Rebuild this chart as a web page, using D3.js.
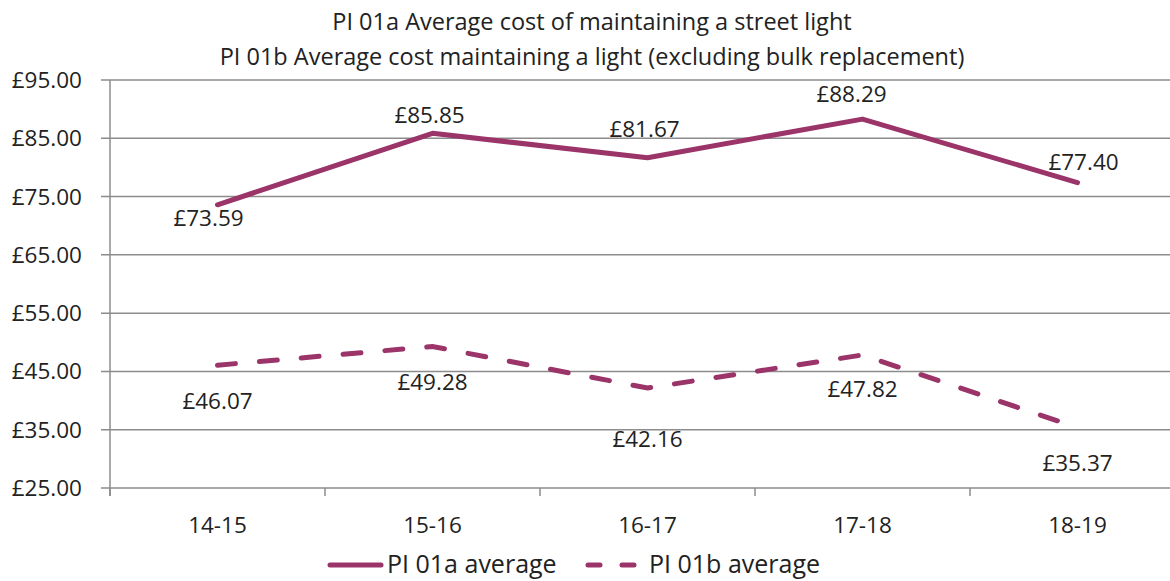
<!DOCTYPE html>
<html>
<head>
<meta charset="utf-8">
<script src="https://cdn.jsdelivr.net/npm/d3@7"></script>
<style>
  body { margin: 0; background: #fff; }
  text { font-family: "Open Sans", "Noto Sans", sans-serif; fill: #222; }
</style>
</head>
<body>
<div id="chart"></div>
<script>
// chart data
const years = ["14-15", "15-16", "16-17", "17-18", "18-19"];
const pi01a = [73.59, 85.85, 81.67, 88.29, 77.40];
const pi01b = [46.07, 49.28, 42.16, 47.82, 35.37];
const yTicks = [25, 35, 45, 55, 65, 75, 85, 95];
const titleLines = ["PI 01a Average cost of maintaining a street light",
                    "PI 01b Average cost maintaining a light (excluding bulk replacement)"];
const seriesNames = ["PI 01a average", "PI 01b average"];

const width = 1170, height = 581;
const plotLeft = 110, plotRight = 1185, plotTop = 80, plotBottom = 488;
const color = "#9b3468";
const gridColor = "#8c8c8c";
const fs = "22.5px";

const svg = d3.select("#chart").append("svg")
    .attr("width", width)
    .attr("height", height);

const x = d3.scaleBand().domain(years).range([plotLeft, plotRight]);
const y = d3.scaleLinear().domain([25, 95]).range([plotBottom, plotTop]);
const fmt = v => "£" + v.toFixed(2);
const cx = i => x(years[i]) + x.bandwidth() / 2;

// title
svg.selectAll(".title")
    .data(titleLines)
    .enter().append("text")
    .attr("x", 592)
    .attr("y", (d, i) => 30 + i * 35)
    .attr("text-anchor", "middle")
    .attr("font-size", "23.5px")
    .text(d => d);

// gridlines + y labels
svg.selectAll(".grid")
    .data(yTicks)
    .enter().append("line")
    .attr("x1", plotLeft - 9)
    .attr("x2", width)
    .attr("y1", d => y(d))
    .attr("y2", d => y(d))
    .attr("stroke", gridColor)
    .attr("stroke-width", 1.5);

svg.selectAll(".ylab")
    .data(yTicks)
    .enter().append("text")
    .attr("x", 82)
    .attr("y", d => y(d) + 8)
    .attr("text-anchor", "end")
    .attr("font-size", fs)
    .text(d => fmt(d));

// y axis line
svg.append("line")
    .attr("x1", plotLeft).attr("x2", plotLeft)
    .attr("y1", plotTop).attr("y2", plotBottom + 8)
    .attr("stroke", gridColor).attr("stroke-width", 1.5);

// x ticks between categories
svg.selectAll(".xtick")
    .data(years)
    .enter().append("line")
    .attr("x1", d => x(d))
    .attr("x2", d => x(d))
    .attr("y1", plotBottom)
    .attr("y2", plotBottom + 8)
    .attr("stroke", gridColor)
    .attr("stroke-width", 1.5);

svg.selectAll(".xlab")
    .data(years)
    .enter().append("text")
    .attr("x", d => x(d) + x.bandwidth() / 2)
    .attr("y", 533)
    .attr("text-anchor", "middle")
    .attr("font-size", fs)
    .text(d => d);

const line = d3.line()
    .x((d, i) => cx(i))
    .y(d => y(d));

svg.append("path")
    .datum(pi01a)
    .attr("d", line)
    .attr("fill", "none")
    .attr("stroke", color)
    .attr("stroke-width", 5)
    .attr("stroke-linejoin", "round")
    .attr("stroke-linecap", "round");

svg.append("path")
    .datum(pi01b)
    .attr("d", line)
    .attr("fill", "none")
    .attr("stroke", color)
    .attr("stroke-width", 5)
    .attr("stroke-linecap", "round")
    .attr("stroke-dasharray", "18,24");

// data labels: baseline offsets relative to each point
const offA = [[-9, 21], [-3, -10], [-3, -21], [-11, -17], [6, -13]];
const offB = [[0, 44], [0, 44], [0, 59], [0, 42], [0, 43]];

svg.selectAll(".labA")
    .data(pi01a)
    .enter().append("text")
    .attr("x", (d, i) => cx(i) + offA[i][0])
    .attr("y", (d, i) => y(d) + offA[i][1])
    .attr("text-anchor", "middle")
    .attr("font-size", fs)
    .text(d => fmt(d));

svg.selectAll(".labB")
    .data(pi01b)
    .enter().append("text")
    .attr("x", (d, i) => cx(i) + offB[i][0])
    .attr("y", (d, i) => y(d) + offB[i][1])
    .attr("text-anchor", "middle")
    .attr("font-size", fs)
    .text(d => fmt(d));

// legend
const lg = svg.append("g").attr("transform", "translate(0,565)");
lg.append("line").attr("x1", 330).attr("x2", 381).attr("y1", 0).attr("y2", 0)
    .attr("stroke", color).attr("stroke-width", 5).attr("stroke-linecap", "round");
lg.append("text").attr("x", 387).attr("y", 8).attr("font-size", "25px").text(seriesNames[0]);
lg.append("line").attr("x1", 588).attr("x2", 634).attr("y1", 0).attr("y2", 0)
    .attr("stroke", color).attr("stroke-width", 5).attr("stroke-linecap", "round")
    .attr("stroke-dasharray", "12,22");
lg.append("text").attr("x", 649).attr("y", 8).attr("font-size", "25px").text(seriesNames[1]);
</script>
</body>
</html>
